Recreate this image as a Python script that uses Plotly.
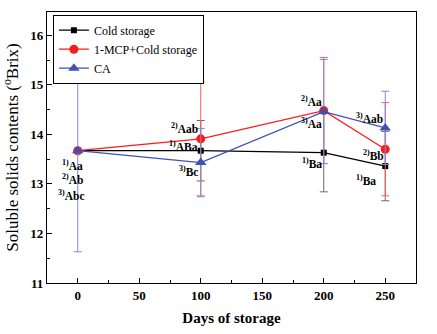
import plotly.graph_objects as go

# Storage days
days = [0, 100, 200, 250]

# Soluble solids contents (°Brix), means and standard deviations
cold_mean = [13.67, 13.67, 13.63, 13.36]
cold_sd = [0.0, 0.61, 0.79, 0.70]
mcp_mean = [13.67, 13.91, 14.48, 13.70]
mcp_sd = [0.0, 1.15, 1.07, 0.94]
ca_mean = [13.67, 13.43, 14.46, 14.13]
ca_sd = [2.04, 0.69, 1.05, 0.74]

# Significance letters: (day, y, superscript, letters)
labels_cold = [(5.5, 13.39, "1)", "Aa"), (99, 13.76, "1)", "ABa"),
               (200, 13.42, "1)", "Ba"), (244, 13.07, "1)", "Ba")]
labels_mcp = [(5.5, 13.09, "2)", "Ab"), (99, 14.12, "2)", "Aab"),
              (200, 14.68, "2)", "Aa"), (250.5, 13.59, "2)", "Bb")]
labels_ca = [(7.5, 12.77, "3)", "Abc"), (99, 13.27, "3)", "Bc"),
             (200, 14.23, "3)", "Aa"), (249.5, 14.33, "3)", "Aab")]

SERIF = "Liberation Serif"

fig = go.Figure()


def add_series(name, mean, sd, color, err_color, symbol, size):
    fig.add_trace(go.Scatter(
        x=days, y=mean, name=name, mode="lines+markers",
        line=dict(color=color, width=1.3),
        marker=dict(symbol=symbol, size=size, color=color),
        error_y=dict(type="data", array=sd, visible=True,
                     color=err_color, thickness=1, width=4),
    ))


add_series("Cold storage", cold_mean, cold_sd, "#000000", "#6a6a6a", "square", 6)
add_series("1-MCP+Cold storage", mcp_mean, mcp_sd, "#ff1a1a", "#ff5a5a", "circle", 9)
add_series("CA", ca_mean, ca_sd, "#3f51b5", "#7f8cd6", "triangle-up", 10)

for group in (labels_cold, labels_mcp, labels_ca):
    for x, y, sup, txt in group:
        fig.add_annotation(
            x=x, y=y, xref="x", yref="y", showarrow=False,
            xanchor="right", yanchor="middle",
            text=f"<b><sup>{sup}</sup>{txt}</b>",
            font=dict(size=11.5, color="#000000"),
        )

axis_common = dict(
    showline=True, linecolor="#000000", linewidth=1.2, mirror=True,
    ticks="inside", ticklen=5, tickwidth=1, tickcolor="#000000",
    showgrid=False, zeroline=False,
    tickfont=dict(size=13, color="#000000"),
    minor=dict(ticks="inside", ticklen=3, tickcolor="#000000", tickwidth=1),
)

xtick_vals = [0, 50, 100, 150, 200, 250]
ytick_vals = [11, 12, 13, 14, 15, 16]

fig.update_xaxes(
    range=[-25, 275], tickvals=xtick_vals,
    ticktext=[f"<b>{v}</b>" for v in xtick_vals],
    minor_dtick=25,
    title=dict(text="<b>Days of storage</b>",
               font=dict(size=15, color="#000000"), standoff=10),
    **axis_common,
)
fig.update_yaxes(
    range=[11, 16.47], tickvals=ytick_vals,
    ticktext=[f"<b>{v}</b>" for v in ytick_vals],
    minor_dtick=0.5,
    title=dict(text="Soluble solids contents (<sup>o</sup>Brix)",
               font=dict(size=17, color="#000000"), standoff=7),
    **axis_common,
)

fig.update_layout(
    width=437, height=334,
    margin=dict(l=44, r=21, t=11, b=51),
    font=dict(family=SERIF, color="#000000"),
    plot_bgcolor="#ffffff", paper_bgcolor="#ffffff",
    legend=dict(
        x=0.016, y=0.99, xanchor="left", yanchor="top",
        bgcolor="#ffffff", bordercolor="#000000", borderwidth=1,
        font=dict(size=12, color="#000000"),
        tracegroupgap=0, itemwidth=30,
    ),
    showlegend=True,
)

fig.write_html("out.html")
